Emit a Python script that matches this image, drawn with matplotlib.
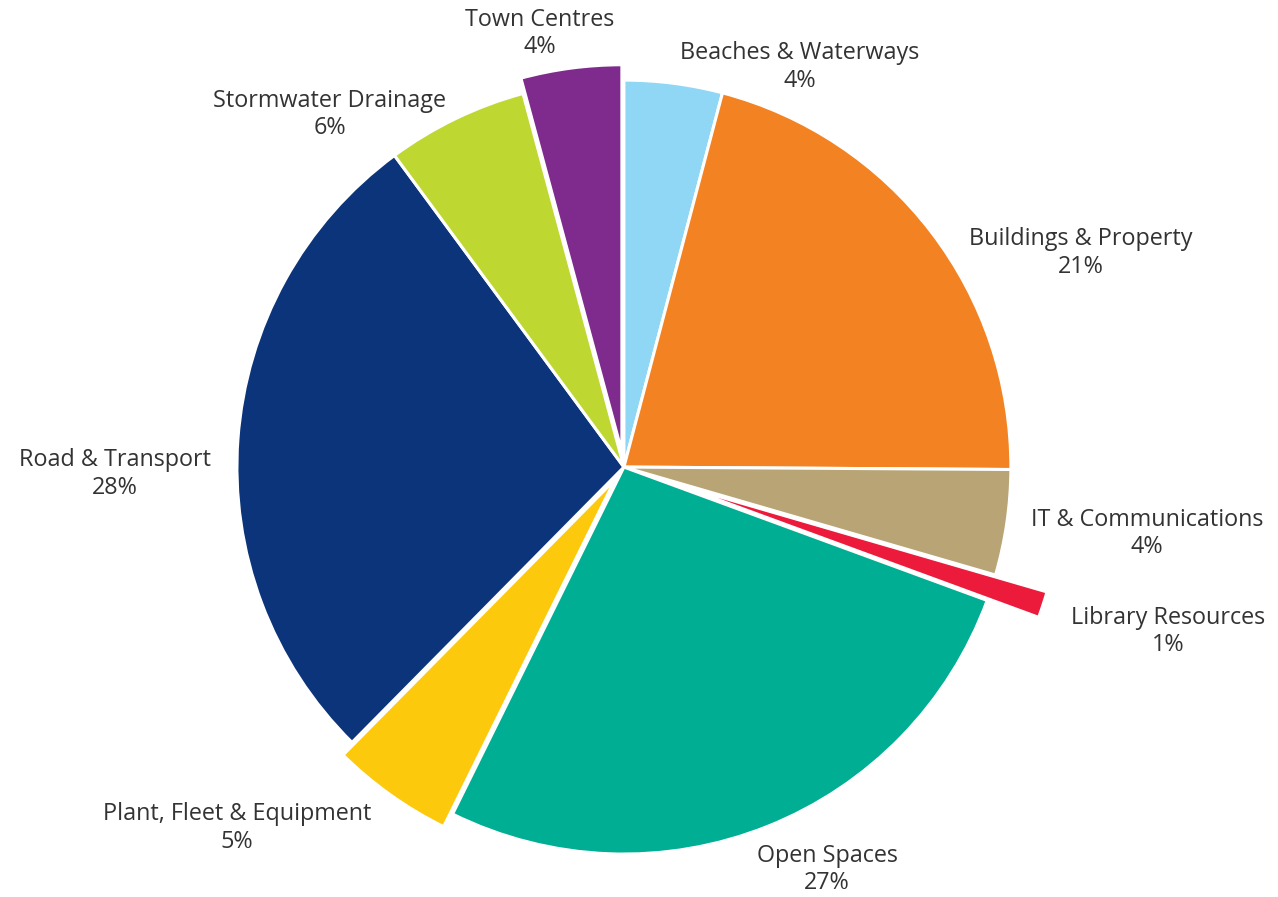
import matplotlib.pyplot as plt

# capital works budget split by asset class, clockwise from 12 o'clock
categories = ['Beaches & Waterways', 'Buildings & Property', 'IT & Communications',
              'Library Resources', 'Open Spaces', 'Plant, Fleet & Equipment',
              'Road & Transport', 'Stormwater Drainage', 'Town Centres']
shares = [4.1, 21.0, 4.4, 1.1, 26.7, 5.1, 27.5, 5.9, 4.2]

colors = ['#8fd7f5', '#f38322', '#b9a475', '#ec1b3b', '#00ae94',
          '#fdc90d', '#0b347a', '#bfd731', '#7f2a8d']
explode = [0, 0, 0, 0.14, 0, 0.04, 0, 0, 0.04]

# label anchor points in pie units (radius = 1)
label_xy = [(0.455, 1.034), (1.181, 0.553), (1.351, -0.171), (1.406, -0.424),
            (0.525, -1.039), (-1.0, -0.933), (-1.315, -0.018), (-0.760, 0.912),
            (-0.217, 1.121)]

plt.rcParams['font.family'] = ['Open Sans', 'DejaVu Sans']

fig = plt.figure(figsize=(12.78, 8.97), dpi=100)
ax = fig.add_axes([0, 0, 1, 1])

ax.pie(shares, colors=colors, explode=explode, startangle=90, counterclock=False,
       radius=1.0, wedgeprops=dict(edgecolor='white', linewidth=2.2))

for name, val, (lx, ly) in zip(categories, shares, label_xy):
    ax.text(lx, ly, f'{name}\n{val:.0f}%', ha='center', va='center',
            fontsize=16.8, color='#333333', linespacing=1.18)

ax.set_xlim(-1.612, 1.690)
ax.set_ylim(-1.111, 1.207)
ax.set_aspect('equal')
ax.axis('off')

fig.savefig('out.png', dpi=100)
